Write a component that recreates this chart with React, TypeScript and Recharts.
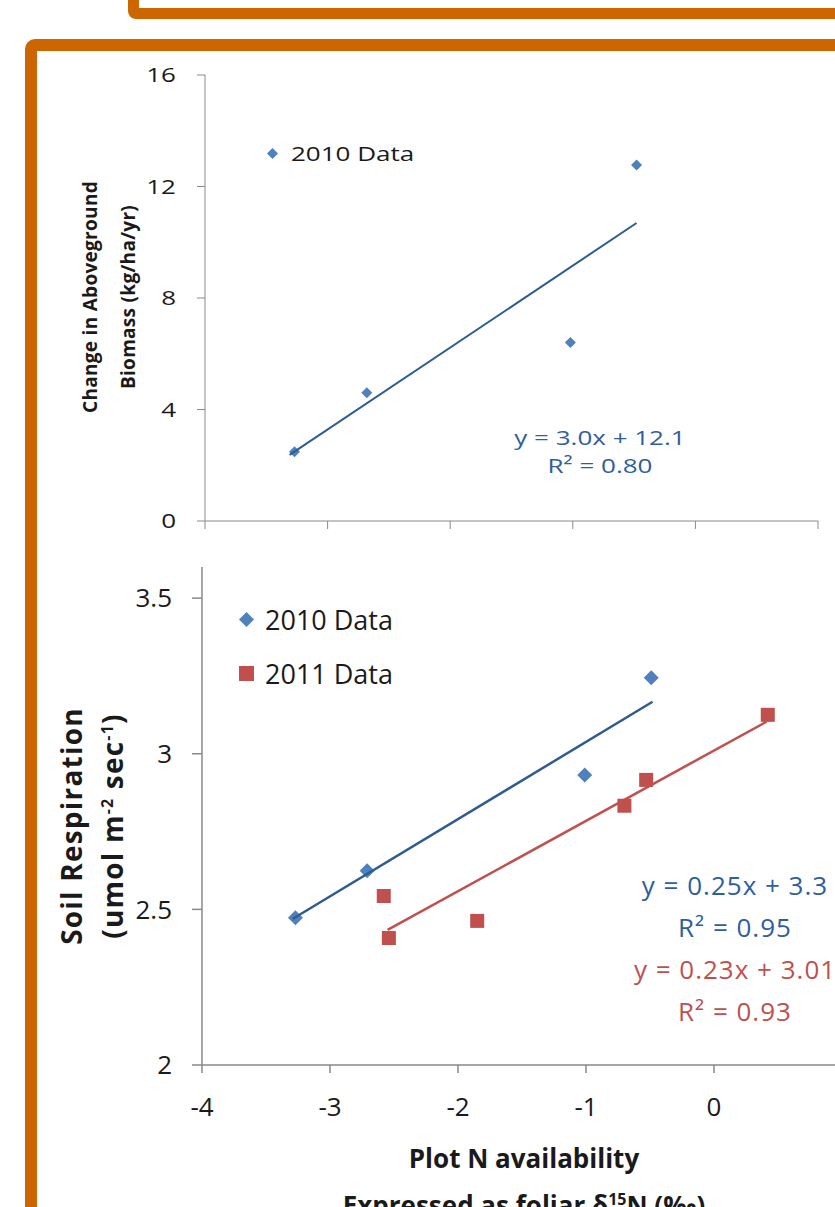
import { Legend, Scatter, ScatterChart, XAxis, YAxis } from 'recharts'

const FONT = '"Open Sans", sans-serif'
const ORANGE = '#CC6600'
const AXIS = '#898989'
const TEXT = '#1a1a1a'
const BLUE = '#4F81BD'
const BLUE_LINE = '#2F5C8F'
const BLUE_TEXT = '#2E5E9E'
const RED = '#C0504D'

// top panel: change in aboveground biomass (2010)
const bioX = [-3.27, -2.68, -1.02, -0.48]
const bioY = [2.48, 4.6, 6.4, 12.77]
const bioFitX = [-3.31, -0.48]
const bioFitY = [2.37, 10.69]

// bottom panel: soil respiration
const resp2010X = [-3.27, -2.71, -1.01, -0.49]
const resp2010Y = [2.473, 2.624, 2.932, 3.244]
const resp2011X = [-2.58, -2.54, -1.85, -0.7, -0.53, 0.42]
const resp2011Y = [2.543, 2.408, 2.463, 2.833, 2.916, 3.125]
const fit2010X = [-3.29, -0.48]
const fit2010Y = [2.47, 3.167]
const fit2011X = [-2.55, 0.41]
const fit2011Y = [2.434, 3.103]

const bioXTicks = [-4, -3, -2, -1, 0, 1]
const respXTicks = [-4, -3, -2, -1, 0]
const bioTicks = [0, 4, 8, 12, 16]
const respTicks = [2, 2.5, 3, 3.5]

const zip = (xs: number[], ys: number[]) => xs.map((x, i) => ({ x, y: ys[i] }))

const diamond = (r: number, fill: string) => (p: any) => (
  <polygon
    points={`${p.cx},${p.cy - r} ${p.cx + r},${p.cy} ${p.cx},${p.cy + r} ${p.cx - r},${p.cy}`}
    fill={fill}
  />
)
const square = (r: number, fill: string) => (p: any) => (
  <rect x={p.cx - r} y={p.cy - r} width={r * 2} height={r * 2} fill={fill} />
)
const noDot = () => <g />

// top panel text is horizontally stretched in the original
const WideTick = (p: any) => (
  <g transform={`translate(${p.x},${p.y})`}>
    <text transform="scale(1.3,1)" x={0} y={0} dy="0.355em" textAnchor="end"
      fontSize={20} fontFamily={FONT} fill={TEXT}>
      {p.payload.value}
    </text>
  </g>
)

function legendContent(fontSize: number, rowH: number, r: number, gap: number, stretch = 1) {
  return ({ payload }: any) => (
    <div style={{ fontFamily: FONT, fontSize, color: TEXT, whiteSpace: 'nowrap' }}>
      {(payload || []).filter((item: any) => item.type !== 'none').map((item: any) => (
        <div key={item.value} style={{ display: 'flex', alignItems: 'center', height: rowH }}>
          <svg width={r * 2 + 2} height={r * 2 + 2} style={{ marginRight: gap }}>
            {item.type === 'square' ? (
              <rect x={1} y={1} width={r * 2} height={r * 2} fill={item.color} />
            ) : (
              <polygon
                points={`${r + 1},1 ${r * 2 + 1},${r + 1} ${r + 1},${r * 2 + 1} 1,${r + 1}`}
                fill={item.color}
              />
            )}
          </svg>
          <span style={{ display: 'inline-block', transform: `scaleX(${stretch})`, transformOrigin: 'left center' }}>
            {item.value}
          </span>
        </div>
      ))}
    </div>
  )
}

const abs = (left: number, top: number, extra: any = {}) => ({ position: 'absolute' as const, left, top, ...extra })

export default function App() {
  const botTick = { fill: TEXT, fontSize: 26, fontFamily: FONT }
  return (
    <div style={{ position: 'absolute', left: 0, top: 0, width: 835, height: 1207, overflow: 'hidden', background: '#fff', fontFamily: FONT }}>
      {/* slide frames */}
      <div style={abs(128, -30, { width: 800, height: 49, boxSizing: 'border-box', border: `11px solid ${ORANGE}`, borderRadius: 8 })} />
      <div style={abs(25, 39, { width: 900, height: 1300, boxSizing: 'border-box', border: `12px solid ${ORANGE}`, borderRadius: 10 })} />

      {/* top chart */}
      <div style={abs(0, 0)}>
        <ScatterChart width={835} height={560} margin={{ top: 75, right: 17, bottom: 9, left: 145 }}>
          <XAxis type="number" dataKey="x" domain={[-4, 1]} ticks={bioXTicks} tickFormatter={() => ''}
            height={30} stroke={AXIS} tickSize={8} />
          <YAxis type="number" dataKey="y" domain={[0, 16]} ticks={bioTicks} width={60}
            stroke={AXIS} tickSize={8} tickMargin={21} tick={WideTick} />
          <Legend layout="vertical" align="center" verticalAlign="middle"
            wrapperStyle={{ left: 266, top: 138, width: 'auto' }}
            content={legendContent(20, 30, 5.5, 12, 1.3)} />
          <Scatter name="2010 Data" data={zip(bioX, bioY)} fill={BLUE} legendType="diamond"
            shape={diamond(5.5, BLUE)} isAnimationActive={false} />
          <Scatter data={zip(bioFitX, bioFitY)} legendType="none" line={{ stroke: BLUE_LINE, strokeWidth: 2 }}
            shape={noDot} isAnimationActive={false} />
        </ScatterChart>
      </div>

      {/* bottom chart */}
      <div style={abs(0, 540)}>
        <ScatterChart width={870} height={667} margin={{ top: 27, right: 28, bottom: 92, left: 142 }}>
          <XAxis type="number" dataKey="x" domain={[-4, 1]} ticks={respXTicks} height={50}
            stroke={AXIS} strokeWidth={1.5} tickSize={8} tickMargin={25} tick={botTick}
            tickFormatter={(v: number) => String(v)} />
          <YAxis type="number" dataKey="y" domain={[2, 3.6]} ticks={respTicks} width={60}
            stroke={AXIS} strokeWidth={1.5} tickSize={10} tickMargin={20} tick={botTick} />
          <Legend layout="vertical" align="center" verticalAlign="middle"
            wrapperStyle={{ left: 238, top: 52, width: 'auto' }}
            content={legendContent(27, 54, 7.5, 10)} />
          <Scatter name="2010 Data" data={zip(resp2010X, resp2010Y)} fill={BLUE} legendType="diamond"
            shape={diamond(7.5, BLUE)} isAnimationActive={false} />
          <Scatter name="2011 Data" data={zip(resp2011X, resp2011Y)} fill={RED} legendType="square"
            shape={square(7, RED)} isAnimationActive={false} />
          <Scatter data={zip(fit2010X, fit2010Y)} legendType="none" line={{ stroke: BLUE_LINE, strokeWidth: 2.5 }}
            shape={noDot} isAnimationActive={false} />
          <Scatter data={zip(fit2011X, fit2011Y)} legendType="none" line={{ stroke: RED, strokeWidth: 2.5 }}
            shape={noDot} isAnimationActive={false} />
        </ScatterChart>
      </div>

      {/* equations, top */}
      <div style={abs(450, 424, { width: 300, textAlign: 'center', fontSize: 20, color: BLUE_TEXT, lineHeight: '28px', transform: 'scaleX(1.3)' })}>
        <div>y = 3.0x + 12.1</div>
        <div>R² = 0.80</div>
      </div>

      {/* equations, bottom */}
      <div style={abs(585, 864, { width: 300, textAlign: 'center', fontSize: 26, letterSpacing: 1, lineHeight: '42px' })}>
        <div style={{ color: BLUE_TEXT }}>y = 0.25x + 3.3</div>
        <div style={{ color: BLUE_TEXT }}>R² = 0.95</div>
        <div style={{ color: RED }}>y = 0.23x + 3.01</div>
        <div style={{ color: RED }}>R² = 0.93</div>
      </div>

      {/* axis titles */}
      <div style={abs(-41, 259, { width: 300, height: 76, textAlign: 'center', fontSize: 19, fontWeight: 700, letterSpacing: 0.3, lineHeight: '38px', color: TEXT, transform: 'rotate(-90deg)' })}>
        <div>Change in Aboveground</div>
        <div>Biomass (kg/ha/yr)</div>
      </div>
      <div style={abs(-61, 790, { width: 300, height: 72, textAlign: 'center', fontSize: 28, fontWeight: 700, letterSpacing: 1.2, lineHeight: '36px', color: TEXT, transform: 'rotate(-90deg)' })}>
        <div>Soil Respiration</div>
        <div>(umol m<sup style={{ fontSize: 16 }}>-2</sup> sec<sup style={{ fontSize: 16 }}>-1</sup>)</div>
      </div>
      <div style={abs(324, 1138, { width: 400, textAlign: 'center', fontSize: 26, fontWeight: 700, lineHeight: '41px', color: TEXT })}>
        <div>Plot N availability</div>
        <div>Expressed as foliar δ<sup style={{ fontSize: 16 }}>15</sup>N (‰)</div>
      </div>
    </div>
  )
}
